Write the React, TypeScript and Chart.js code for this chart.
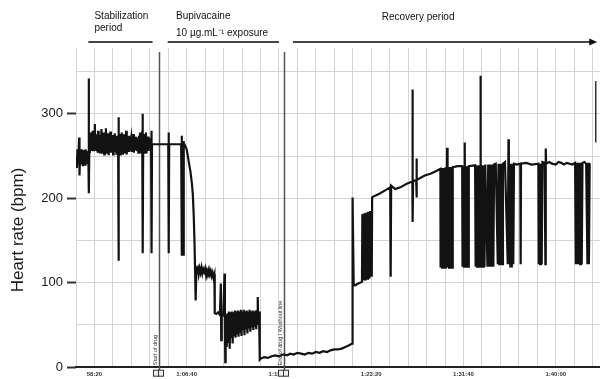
import React, { useEffect, useRef } from 'react';
import { Chart, registerables } from 'chart.js';
Chart.register(...registerables);

// ---- Data (time in seconds, heart rate in bpm) ----
const stabTime = [
  3402,3405,3408,3411,3414,3417,3419,3422,3425,3428,
  3431,3434,3437,3440,3443,3446,3449,3452,3455,3458,
  3461,3464,3467,3469,3470,
  3472,3475,3478,3481,3484,3487,3490,3493,3496,3499,
  3502,3505,3508,3511,3514,3517,3520,3523,3526,3529,
  3532,3535,3538,3541,3544,3547,3550,3553,3556,3559,
  3562,3565,3568,3571,3574,3577,3580,3583,3586,3589,
  3592,3595,3598,3601,3604,3607,3610,3613,3616,3619,
  3622,3625,3628,3630,3631,3633,3636,3639,3642,3645,
  3648,3651,3654,3657,3660,3663,3666,3669,3672,3675,
  3678,3681,3684,3687,3690,3693,3696,3699,3702,3705,
  3708,3711,3714,3717,3720,3723,3726,3729,3732,3735,
  3738,3741,3744,3747,3750,3753,3756,3759,3761,3762,
  3764,3767,3770,3773,3776,3779,3782,3785,3788,3791,
  3794,3797,3800,3804,3807,3809,3810,3812,3830,
];
const stabHr = [
  250,236,258,242,254,272,227,250,240,258,
  244,256,238,257,244,253,240,258,246,254,
  242,256,248,342,206,
  255,266,278,256,272,259,280,257,274,260,
  288,258,276,256,272,254,280,258,275,253,
  270,257,282,254,273,258,278,252,271,256,
  283,254,274,258,277,251,272,257,279,254,
  271,256,275,252,270,256,277,257,272,253,
  274,257,270,296,126,260,276,252,273,257,
  278,253,271,256,276,253,270,258,280,252,
  271,257,274,255,270,258,268,272,255,274,
  258,276,254,271,258,273,259,270,257,272,
  254,274,256,278,253,271,258,280,300,135,
  258,276,254,272,257,278,253,271,258,273,
  256,270,259,266,264,280,135,264,264,
];

const expoTime = [3850,3880,3900,3902,3903,3905,3940,3970,3973,3974,3976,3979,3981,3983,3985,3988,4000,4010,4020,4028,4033,4038,4042,4045,4047,4050,4052,4055,4060,4065,4070,4075,4080,4085,4090,4095,4100,4105,4110,4115,4120,4125,4130,4135,4140,4145,4150,4152,4160,4170,4180,4185,4187,4190,4198,4205,4207,4209,4211,4213,4217,4221,4225,4229,4233,4237,4241,4245,4249,4253,4257,4261,4265,4269,4273,4277,4281,4285,4289,4293,4297,4301,4305,4309,4313,4317,4321,4325,4329,4333,4337,4341,4345,4349,4353,4357,4361,4365,4369,4373,4377,4381,4385,4388,4392,4396,4400,4420,4440,4460,4480,4500,4520,4530];
const expoHr = [264,264,264,278,135,264,264,264,274,132,264,132,268,132,265,264,258,245,232,218,205,180,150,120,79,79,112,116,118,110,117,112,118,111,116,113,117,109,115,112,116,110,114,108,112,106,110,64,63,65,62,99,32,64,62,111,60,6,40,62,24,64,30,66,22,65,36,66,28,65,38,67,35,66,40,67,36,66,42,68,37,66,44,68,38,66,45,67,40,66,46,68,42,66,47,67,44,66,48,67,45,66,83,50,66,9,10,12,11,13,14,13,15,15];

const recTime = [4545,4560,4580,4600,4620,4640,4660,4680,4700,4720,4740,4760,4780,4800,4820,4840,4860,4880,4897,4899,4905,4913,4930,4950,4952,4955,4958,4961,4964,4967,4970,4973,4976,4979,4982,4985,4988,4991,4994,4997,5000,5003,5005,5010,5030,5049,5080,5103,5105,5106,5108,5130,5158,5190,5212,5223,5224,5225,5227,5244,5245,5246,5248,5266,5290,5321,5350,5375,5376,5380,5384,5388,5392,5396,5400,5404,5408,5411,5414,5418,5422,5426,5430,5434,5438,5442,5470,5493,5495,5499,5503,5507,5509,5513,5517,5521,5525,5529,5563,5566,5570,5574,5578,5582,5586,5590,5592,5594,5598,5602,5606,5610,5614,5618,5630,5634,5638,5642,5646,5650,5654,5658,5662,5666,5675,5686,5690,5694,5698,5702,5706,5710,5714,5725,5740,5744,5746,5750,5754,5758,5762,5766,5770,5774,5790,5808,5810,5812,5840,5870,5906,5908,5912,5916,5920,5924,5928,5940,5944,5946,5948,5965,5980,6000,6015,6030,6045,6060,6075,6090,6105,6109,6113,6117,6121,6125,6129,6133,6137,6141,6145,6155,6165,6172,6176,6180,6184,6190];
const recHr = [14,16,15,17,16,15,17,16,18,17,19,18,20,21,21,22,24,26,28,201,97,97,99,101,181,103,182,104,182,104,183,105,183,105,184,106,184,106,185,107,185,107,201,202,204,206,210,213,215,107,215,211,213,217,219,220,329,172,221,221,247,201,222,224,227,229,232,235,118,236,118,236,118,236,118,237,118,260,118,237,118,237,118,237,118,237,238,238,119,238,119,266,119,238,119,238,119,238,239,119,239,119,239,119,239,119,345,239,119,239,119,239,119,240,119,240,119,240,119,240,119,240,119,240,241,122,241,122,241,122,241,122,241,243,122,270,122,241,118,241,118,241,122,241,240,241,122,241,242,240,241,122,241,122,241,122,243,242,122,259,241,243,241,240,243,242,240,242,241,240,242,122,242,122,242,122,242,122,242,122,242,243,241,122,242,122,240,240];

const lateTime = [6217, 6217];
const lateHr = [339, 266];

const markerTimes = [3850, 4530];
const markerLabels = ['Start of drug', 'End of drug / Washout line'];

const phaseLines1 = ['Stabilization', 'Bupivacaine', 'Recovery period'];
const phaseLines2 = ['period', '10 \u00b5g.mL\u207b\u00b9 exposure', ''];
const phaseTextAt = [3500, 3942, 5254];
const phaseBarStart = [3467, 3897, 4576];
const phaseBarEnd = [3815, 4500, 6225];

const yTitle = 'Heart rate (bpm)';
const xMin = 3400, xMax = 6240, yMin = 0, yMax = 378;

const FONT = '"Liberation Sans", Arial, Helvetica, sans-serif';

function fmtTime(v: number): string {
  const h = Math.floor(v / 3600);
  const m = Math.floor((v % 3600) / 60);
  const s = Math.round(v % 60);
  const p = (n: number) => String(n).padStart(2, '0');
  return h > 0 ? `${h}:${p(m)}:${p(s)}` : `${m}:${p(s)}`;
}

const toPts = (t: number[], v: number[]) => t.map((x, i) => ({ x, y: v[i] }));

const overlay = {
  id: 'overlay',
  beforeDatasetsDraw(chart: any) {
    const { ctx, chartArea, scales } = chart;
    const x = scales.x;
    ctx.save();
    markerTimes.forEach((t) => {
      const px = Math.round(x.getPixelForValue(t)) + 0.5;
      ctx.strokeStyle = '#555';
      ctx.lineWidth = 1.5;
      ctx.beginPath();
      ctx.moveTo(px, chartArea.top + 4);
      ctx.lineTo(px, chartArea.bottom + 3);
      ctx.stroke();
    });
    ctx.restore();
  },
  afterDraw(chart: any) {
    const { ctx, chartArea, scales } = chart;
    const x = scales.x;
    ctx.save();
    markerTimes.forEach((t, i) => {
      const px = Math.round(x.getPixelForValue(t)) + 0.5;
      ctx.save();
      ctx.translate(px - 4, chartArea.bottom - 2);
      ctx.rotate(-Math.PI / 2);
      ctx.font = `5.5px ${FONT}`;
      ctx.fillStyle = '#333';
      ctx.textAlign = 'left';
      ctx.textBaseline = 'middle';
      ctx.fillText(markerLabels[i], 0, 0);
      ctx.restore();
      ctx.fillStyle = '#eee';
      ctx.strokeStyle = '#333';
      ctx.lineWidth = 1;
      ctx.fillRect(px - 6, chartArea.bottom + 3, 11, 6);
      ctx.strokeRect(px - 6, chartArea.bottom + 3, 5, 6);
      ctx.strokeRect(px - 1, chartArea.bottom + 3, 5, 6);
    });
    ctx.font = `10px ${FONT}`;
    ctx.fillStyle = '#111';
    ctx.textBaseline = 'middle';
    phaseLines1.forEach((l1, i) => {
      const x0 = x.getPixelForValue(phaseBarStart[i]);
      const x1 = x.getPixelForValue(phaseBarEnd[i]);
      const tx = x.getPixelForValue(phaseTextAt[i]);
      if (i < 2) {
        ctx.textAlign = 'left';
        ctx.fillText(l1, tx, 16);
        ctx.fillText(phaseLines2[i], tx, i === 0 ? 28 : 33);
      } else {
        ctx.textAlign = 'center';
        ctx.fillText(l1, tx, 17);
      }
      ctx.strokeStyle = '#444';
      ctx.lineWidth = 2;
      ctx.beginPath();
      ctx.moveTo(x0, 42);
      ctx.lineTo(i === 2 ? x1 - 6 : x1, 42);
      ctx.stroke();
      if (i === 2) {
        ctx.fillStyle = '#111';
        ctx.beginPath();
        ctx.moveTo(x1, 42);
        ctx.lineTo(x1 - 8, 38.5);
        ctx.lineTo(x1 - 8, 45.5);
        ctx.closePath();
        ctx.fill();
      }
    });
    ctx.save();
    ctx.translate(18, 230);
    ctx.rotate(-Math.PI / 2);
    ctx.font = `17px ${FONT}`;
    ctx.fillStyle = '#1a1a1a';
    ctx.textAlign = 'center';
    ctx.textBaseline = 'middle';
    ctx.fillText(yTitle, 0, 0);
    ctx.restore();
    ctx.restore();
  },
};

export default function App() {
  const ref = useRef<HTMLCanvasElement>(null);
  useEffect(() => {
    if (!ref.current) return;
    const chart = new Chart(ref.current, {
      type: 'line',
      data: {
        datasets: [
          {
            data: [...toPts(stabTime, stabHr), ...toPts(expoTime, expoHr), ...toPts(recTime, recHr)],
            borderColor: '#121212',
            borderWidth: 2.2,
            pointRadius: 0,
            tension: 0,
          },
          {
            data: toPts(lateTime, lateHr),
            borderColor: '#333',
            borderWidth: 1.5,
            pointRadius: 0,
          },
        ],
      },
      options: {
        animation: false,
        responsive: false,
        devicePixelRatio: 1,
        layout: { padding: { top: 48, left: 0, right: 0, bottom: 0 } },
        plugins: { legend: { display: false }, tooltip: { enabled: false } },
        scales: {
          x: {
            type: 'linear',
            min: xMin,
            max: xMax,
            afterFit: (s: any) => { s.height = 11; },
            border: { display: true, color: '#222', width: 2 },
            grid: { color: '#d4d4d4', lineWidth: 1, drawTicks: false },
            ticks: {
              stepSize: 100,
              autoSkip: false,
              maxRotation: 0,
              includeBounds: false,
              padding: 4,
              font: { family: FONT, size: 6, weight: 'bold' },
              color: '#333',
              callback: (v: any) => (Number(v) % 500 === 0 ? fmtTime(Number(v)) : ''),
            },
          },
          y: {
            type: 'linear',
            min: yMin,
            max: yMax,
            afterFit: (s: any) => { s.width = 76; },
            border: { display: false },
            grid: {
              color: (c: any) => (c.tick && c.tick.value === 0 ? 'rgba(0,0,0,0)' : '#d4d4d4'),
              lineWidth: 1,
              drawTicks: true,
              tickLength: 9,
              tickWidth: 2,
              tickColor: (c: any) => (c.tick && c.tick.value % 100 === 0 ? '#333' : 'rgba(0,0,0,0)'),
            },
            ticks: {
              stepSize: 50,
              includeBounds: false,
              padding: 4,
              font: { family: FONT, size: 13 },
              color: '#1a1a1a',
              callback: (v: any) => (Number(v) % 100 === 0 ? String(v) : ''),
            },
          },
        },
      },
      plugins: [overlay],
    } as any);
    return () => chart.destroy();
  }, []);
  return (
    <div style={{ position: 'fixed', left: 0, top: 0, width: 600, height: 379, background: '#fff' }}>
      <canvas ref={ref} width={600} height={379} style={{ width: 600, height: 379, display: 'block' }} />
    </div>
  );
}
